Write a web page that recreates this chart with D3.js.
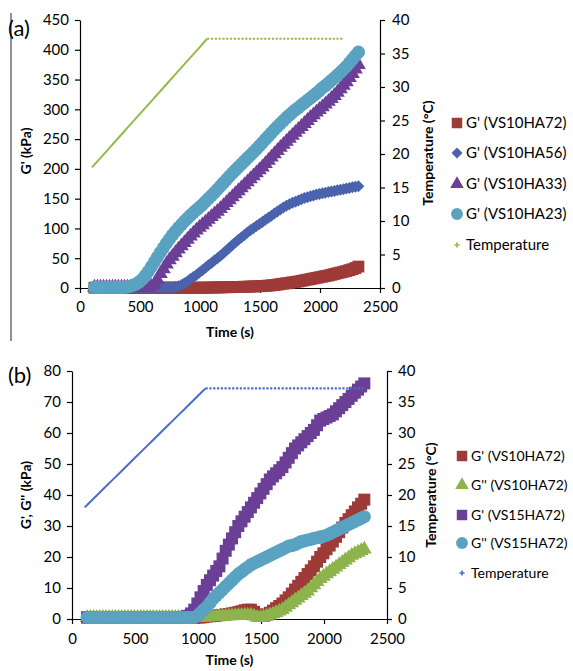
<!DOCTYPE html>
<html>
<head>
<meta charset="utf-8">
<script src="https://cdn.jsdelivr.net/npm/d3@7/dist/d3.min.js"></script>
<style>
body { margin: 0; background: #fff; }
text { font-family: Lato, "Liberation Sans", sans-serif; fill: #000; }
</style>
</head>
<body>
<svg width="573" height="671"></svg>
<script>
// sample times (s) for the modulus series
var times = [120,145,170,195,220,245,270,295,320,345,
  370,395,420,445,470,495,520,545,570,595,
  620,645,670,695,720,745,770,795,820,845,
  870,895,920,945,970,995,1020,1045,1070,1095,
  1120,1145,1170,1195,1220,1245,1270,1295,1320,1345,
  1370,1395,1420,1445,1470,1495,1520,1545,1570,1595,
  1620,1645,1670,1695,1720,1745,1770,1795,1820,1845,
  1870,1895,1920,1945,1970,1995,2020,2045,2070,2095,
  2120,2145,2170,2195,2220,2245,2270,2295,2320];

// sample times (s) for the temperature series
var tempTimes = [100,130,160,190,220,250,280,310,340,370,400,430,460,490,520,550,580,610,640,670,
  700,730,760,790,820,850,880,910,940,970,1000,1030,1060,1090,1120,1150,1180,1210,1240,1270,
  1300,1330,1360,1390,1420,1450,1480,1510,1540,1570,1600,1630,1660,1690,1720,1750,1780,1810,1840,1870,
  1900,1930,1960,1990,2020,2050,2080,2110,2140,2170,2200,2230,2260,2290,2320];

// (a) temperature, degC
var tempA = [18.0,18.6,19.2,19.8,20.4,21.0,21.6,22.2,22.8,23.4,24.0,24.6,25.2,25.8,26.4,27.0,27.6,28.2,28.8,29.4,
  30.0,30.6,31.2,31.8,32.4,33.0,33.6,34.2,34.8,35.4,36.0,36.6,37.2,37.2,37.2,37.2,37.2,37.2,37.2,37.2,
  37.2,37.2,37.2,37.2,37.2,37.2,37.2,37.2,37.2,37.2,37.2,37.2,37.2,37.2,37.2,37.2,37.2,37.2,37.2,37.2,
  37.2,37.2,37.2,37.2,37.2,37.2,37.2,37.2,37.2,37.2,37.2];

// (b) temperature, degC
var tempB = [18.0,18.6,19.2,19.8,20.4,21.0,21.6,22.2,22.8,23.4,24.0,24.6,25.2,25.8,26.4,27.0,27.6,28.2,28.8,29.4,
  30.0,30.6,31.2,31.8,32.4,33.0,33.6,34.2,34.8,35.4,36.0,36.6,37.2,37.2,37.2,37.2,37.2,37.2,37.2,37.2,
  37.2,37.2,37.2,37.2,37.2,37.2,37.2,37.2,37.2,37.2,37.2,37.2,37.2,37.2,37.2,37.2,37.2,37.2,37.2,37.2,
  37.2,37.2,37.2,37.2,37.2,37.2,37.2,37.2,37.2,37.2,37.2,37.2,37.2,37.2,37.2];

// (a) G' in kPa
var gVS10HA72 = [0.5,0.5,0.5,0.5,0.5,0.5,0.5,0.5,0.5,0.5,
  0.5,0.5,0.5,0.5,0.5,0.5,0.5,0.5,0.5,0.5,
  0.5,0.5,0.5,0.5,0.5,0.5,0.5,0.5,0.5,0.5,
  0.5,0.5,0.5,0.5,0.5,0.5,0.5,0.6,0.7,0.8,
  0.9,1.0,1.1,1.2,1.3,1.4,1.5,1.6,1.8,1.9,
  2.1,2.2,2.4,2.6,2.8,3.0,3.2,3.6,4.0,4.5,
  5,5.7,6.5,7.2,8,8.7,9.5,10.2,11,12,
  13,14,15,16,17,18,19,20,21,22.2,
  23.5,24.8,26,27.2,28.5,30,31.5,33.5,36];
var gVS10HA56 = [1,1,1,1,1,1,1,1,1,1,
  1,1,1,1,1,1,1,1,1,1,
  1,1,1,1,1,1,1,1.8,3,5,
  8,11,15,18.5,22,26,30,34,38,42,
  46,50,54,58.5,63,67.5,72,76.5,81,85,
  89,93,97,100.5,104,107.5,111,114.5,118,121.5,
  125,128.5,132,135,138,140.5,143,145,147,149,
  151,152.5,154,155.5,157,158,159,160,161,162,
  163,164,165,166,167,168,169,170,171];
var gVS10HA33 = [1,1,1,1,1,1,1,1,1,1,
  1,1,1,1,1,1,1,1,1,2.5,
  6,14,24,32,40,47,53,59,65,70.5,
  76,81.5,87,92,97,101.5,106,110.5,115,119.5,
  124,128.5,133,138,143,148,153,158,163,168,
  173,178,183,188,193,198,203,208.5,214,219.5,
  225,230.5,236,241,246,251,256,261,266,271,
  276,281,286,290.5,295,299.5,304,308.5,313,318,
  323,328.5,334,340,346,353,360,367.5,375];
var gVS10HA23 = [1,1,1,1,1,1,1,1,1,1,
  1,1.8,3,4.8,7,10.5,15,21,28,36,
  44,52,60,67.5,75,82,89,95,101,106.5,
  112,117,122,126.5,131,135.5,140,145,150,155,
  160,165.5,171,176.5,182,187.5,193,198,203,208,
  213,218,223,228,233,238.5,244,249.5,255,260.5,
  266,271,276,281,286,290.5,295,299,303,307,
  311,315,319,323,327,331.5,336,340,344,348.5,
  353,357.5,362,367,372,378,384,390,396];

// (b) G' and G'' in kPa
var gpVS10HA72 = [0.5,0.5,0.5,0.5,0.5,0.5,0.5,0.5,0.5,0.5,
  0.5,0.5,0.5,0.5,0.5,0.5,0.5,0.5,0.5,0.5,
  0.5,0.5,0.5,0.5,0.5,0.5,0.5,0.5,0.5,0.5,
  0.5,0.5,0.5,0.5,0.5,0.5,0.5,0.6,0.8,0.9,
  1,1.1,1.2,1.3,1.5,1.6,1.8,2,2.2,2.5,
  2.8,3,3,2.3,1.5,1,1,1.4,2,2.7,
  3.5,4.2,5,6,7,8.2,9.5,10.7,12,13.2,
  14.5,15.7,17,18.5,20,21.2,22.5,23.7,25,26.5,
  28,29.5,31,32.2,33.5,34.7,36,37.2,38.5];
var gppVS10HA72 = [0.5,0.5,0.5,0.5,0.5,0.5,0.5,0.5,0.5,0.5,
  0.5,0.5,0.5,0.5,0.5,0.5,0.5,0.5,0.5,0.5,
  0.5,0.5,0.5,0.5,0.5,0.5,0.5,0.5,0.5,0.5,
  0.5,0.5,0.5,0.5,0.5,0.5,0.5,0.55,0.6,0.65,
  0.7,0.75,0.8,0.85,0.9,0.95,1,1.05,1.1,1.15,
  1.2,1.2,1.2,0.9,0.5,0.5,0.6,0.9,1.2,1.6,
  2,2.5,3,3.7,4.5,5.2,6,6.7,7.5,8.2,
  9,10,11,12,13,13.7,14.5,15.2,16,16.7,
  17.5,18.2,19,19.7,20.5,21,21.5,22,22.5];
var gpVS15HA72 = [0.5,0.5,0.5,0.5,0.5,0.5,0.5,0.5,0.5,0.5,
  0.5,0.5,0.5,0.5,0.5,0.5,0.5,0.5,0.5,0.5,
  0.5,0.5,0.5,0.5,0.5,0.5,0.5,0.5,0.5,0.5,
  0.5,0.7,1,1.8,3,5,7,9,11,12.5,
  14,15.5,17,19.5,22,24,26,28,30,31.5,
  33,34.5,36,37.5,39,40.5,42,43.5,45,46,
  47,48,49,50.5,52,53.5,55,56,57,58,
  59,60,61,62.5,64,64.5,65,65.5,66,67,
  68,69,70,71,72,73,74,75,76];
var gppVS15HA72 = [0.5,0.5,0.5,0.5,0.5,0.5,0.5,0.5,0.5,0.5,
  0.5,0.5,0.5,0.5,0.5,0.5,0.5,0.5,0.5,0.5,
  0.5,0.5,0.5,0.5,0.5,0.5,0.5,0.5,0.5,0.5,
  0.5,0.5,0.5,0.5,0.5,1,2,3,4,5.2,
  6.5,7.5,8.5,9.5,10.5,11.5,12.5,13.5,14.5,15.2,
  16,16.7,17.5,18,18.5,19,19.5,20,20.5,21,
  21.5,22,22.5,23,23.5,23.7,24,24.5,25,25.2,
  25.5,25.7,26,26.2,26.5,26.7,27,27.5,28,28.5,
  29,29.5,30,30.5,31,31.5,32,32.5,33];

var xTicks = [0,500,1000,1500,2000,2500];
var yTicksA = [0,50,100,150,200,250,300,350,400,450];
var yTicksB = [0,10,20,30,40,50,60,70,80];
var tempTicks = [0,5,10,15,20,25,30,35,40];

var svg = d3.select("svg");

// thin frame line on the left of panel (a)
svg.append("line")
    .attr("x1", 11).attr("x2", 11).attr("y1", 13).attr("y2", 341)
    .attr("stroke", "#222").attr("stroke-width", 1);

var red = "#9e3a37", blue = "#4a63ae", purple = "#6c3f97", cyan = "#5aa2c2",
    green = "#8db44c", tgreen = "#93bb4e", tblue = "#4a6ccb";

function drawPanel(p) {
    var x = d3.scaleLinear().domain([0, 2500]).range([p.left, p.right]);
    var y = d3.scaleLinear().domain([0, p.yMax]).range([p.bottom, p.top]);
    var y2 = d3.scaleLinear().domain([0, 40]).range([p.bottom, p.top]);
    var fmt = d3.format("d");

    var gx = svg.append("g")
        .attr("transform", "translate(0," + p.bottom + ")")
        .call(d3.axisBottom(x).tickValues(xTicks).tickFormat(fmt).tickSize(5).tickSizeOuter(0).tickPadding(p.xPad));
    var gy = svg.append("g")
        .attr("transform", "translate(" + p.left + ",0)")
        .call(d3.axisLeft(y).tickValues(p.yTicks).tickFormat(fmt).tickSize(5).tickSizeOuter(0).tickPadding(p.yPad));
    var gy2 = svg.append("g")
        .attr("transform", "translate(" + p.right + ",0)")
        .call(d3.axisRight(y2).tickValues(tempTicks).tickFormat(fmt).tickSize(5).tickSizeOuter(0).tickPadding(p.y2Pad));

    [gx, gy, gy2].forEach(function (g) {
        g.selectAll("path, line").attr("stroke", "#000").attr("stroke-width", 1.2);
        g.selectAll("text").style("font-size", "15px").attr("fill", "#000");
    });

    // modulus series (markers)
    p.series.forEach(function (s) {
        svg.append("g").selectAll("path")
            .data(s.values)
            .enter().append("path")
            .attr("transform", function (d, i) {
                return "translate(" + x(times[i]) + "," + y(d) + ")" + (s.rot ? " rotate(45)" : "");
            })
            .attr("d", d3.symbol().type(s.shape).size(s.size))
            .attr("fill", s.color);
    });

    // temperature: ramp drawn solid, plateau dotted
    var pts = p.temp.map(function (d, i) { return [tempTimes[i], d]; });
    var iTop = p.temp.indexOf(d3.max(p.temp));
    var line = d3.line().x(function (d) { return x(d[0]); }).y(function (d) { return y2(d[1]); });
    svg.append("path")
        .attr("d", line(pts.slice(0, iTop + 1)))
        .attr("fill", "none").attr("stroke", p.tColor).attr("stroke-width", 2);
    svg.append("path")
        .attr("d", line(pts.slice(iTop)))
        .attr("fill", "none").attr("stroke", p.tColor).attr("stroke-width", 2.2)
        .attr("stroke-dasharray", "2.2,1.6");

    // axis titles
    svg.append("text")
        .attr("x", (p.left + p.right) / 2).attr("y", p.xTitleY)
        .attr("text-anchor", "middle")
        .style("font-size", "14px").style("font-weight", "bold")
        .text("Time (s)");
    svg.append("text")
        .attr("transform", "translate(" + p.yTitleX + "," + p.titleMid + ") rotate(-90)")
        .attr("text-anchor", "middle")
        .style("font-size", "14px").style("font-weight", "bold")
        .text(p.yTitle);
    svg.append("text")
        .attr("transform", "translate(" + p.y2TitleX + "," + p.titleMid2 + ") rotate(-90)")
        .attr("text-anchor", "middle")
        .style("font-size", "14px").style("font-weight", "bold")
        .text("Temperature (\u00b0C)");

    // panel label
    svg.append("text")
        .attr("x", 8).attr("y", p.labelY)
        .style("font-size", "22px")
        .text(p.label);

    // legend
    var leg = p.series.concat([{ name: "Temperature", color: p.tColor, shape: d3.symbolCross, size: 14 }]);
    leg.forEach(function (s, i) {
        var cy = p.legY[i];
        svg.append("path")
            .attr("transform", "translate(" + p.legX + "," + cy + ")" + (s.rot ? " rotate(45)" : ""))
            .attr("d", d3.symbol().type(s.shape).size(s.legSize || s.size))
            .attr("fill", s.color);
        svg.append("text")
            .attr("x", p.legX + 9).attr("y", cy + 5)
            .style("font-size", p.legFont)
            .text(s.name);
    });
}

drawPanel({
    left: 80, right: 380, top: 20, bottom: 288, yMax: 450,
    yTicks: yTicksA, xPad: 8, yPad: 6, y2Pad: 7,
    xTitleY: 337, yTitle: "G' (kPa)", yTitleX: 31, titleMid: 151,
    y2TitleX: 433, titleMid2: 153,
    label: "(a)", labelY: 36,
    temp: tempA, tColor: tgreen,
    legX: 457, legY: [123, 153, 184, 214, 245], legFont: "15px",
    series: [
        { name: "G' (VS10HA72)", values: gVS10HA72, color: red, shape: d3.symbolSquare, size: 140, legSize: 110 },
        { name: "G' (VS10HA56)", values: gVS10HA56, color: blue, shape: d3.symbolSquare, size: 72, rot: true, legSize: 60 },
        { name: "G' (VS10HA33)", values: gVS10HA33, color: purple, shape: d3.symbolTriangle, size: 95, legSize: 80 },
        { name: "G' (VS10HA23)", values: gVS10HA23, color: cyan, shape: d3.symbolCircle, size: 135, legSize: 110 }
    ]
});

drawPanel({
    left: 72, right: 387, top: 371, bottom: 619, yMax: 80,
    yTicks: yTicksB, xPad: 9, yPad: 6, y2Pad: 6,
    xTitleY: 665, yTitle: "G', G'' (kPa)", yTitleX: 31, titleMid: 495,
    y2TitleX: 436, titleMid2: 495,
    label: "(b)", labelY: 383,
    temp: tempB, tColor: tblue,
    legX: 462, legY: [456, 485, 515, 543, 573], legFont: "14px",
    series: [
        { name: "G' (VS10HA72)", values: gpVS10HA72, color: red, shape: d3.symbolSquare, size: 144, legSize: 110 },
        { name: "G'' (VS10HA72)", values: gppVS10HA72, color: green, shape: d3.symbolTriangle, size: 95, legSize: 80 },
        { name: "G' (VS15HA72)", values: gpVS15HA72, color: purple, shape: d3.symbolSquare, size: 144, legSize: 110 },
        { name: "G'' (VS15HA72)", values: gppVS15HA72, color: cyan, shape: d3.symbolCircle, size: 135, legSize: 110 }
    ]
});
</script>
</body>
</html>
